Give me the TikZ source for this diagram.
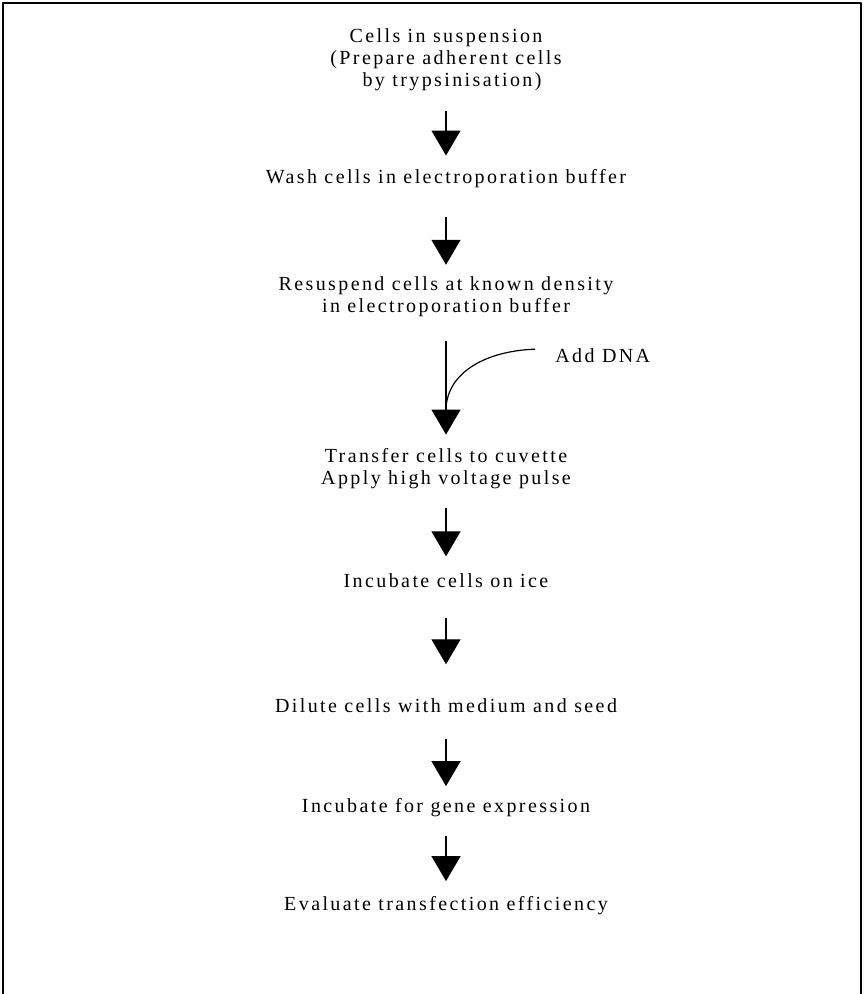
\documentclass[tikz,border=0pt]{standalone}
\usepackage{fontspec}
\setmainfont[LetterSpace=12]{Liberation Serif}
\usetikzlibrary{arrows.meta, positioning}
\tikzset{stage/.style={inner sep=0pt, align=center, font=\fontsize{10}{11}\selectfont}}
\tikzset{flow/.style={-{Triangle[width=14.5pt,length=12.5pt]}, line width=0.6pt}}

\begin{document}
\begin{tikzpicture}[x=0.5pt,y=-0.5pt,line join=round]
	\useasboundingbox (0,0) rectangle (865,994);
	\draw[line width=0.8pt] (3,994) -- (3,3) -- (861,3) -- (861,994);
	\draw[line width=1.4pt] (3,3) -- (861,3);

	\node[stage, anchor=north] (susp) at (446,28) {Cells in suspension\\(Prepare adherent cells\\\hspace{6pt}by trypsinisation)};
	\node[stage, anchor=base] (wash) at (446,184) {Wash cells in electroporation buffer};
	\node[stage, anchor=north] (resus) at (446,276) {Resuspend cells at known density\\in electroporation buffer};
	\node[stage, anchor=north] (cuv) at (446,448) {Transfer cells to cuvette\\Apply high voltage pulse};
	\node[stage, anchor=base] (ice) at (446,587) {Incubate cells on ice};
	\node[stage, anchor=base] (dil) at (446,712) {Dilute cells with medium and seed};
	\node[stage, anchor=base] (gene) at (446,812) {Incubate for gene expression};
	\node[stage, anchor=base] (eval) at (446,910) {Evaluate transfection efficiency};
	\node[stage, anchor=base west] (dna) at (555,362) {Add DNA};

    \foreach \a/\b/\s/\e in {susp/wash/10/7, wash/resus/14.3/5.6, resus/cuv/11.9/6.7,
        cuv/ice/9.4/8.2, ice/dil/15/16.7, dil/gene/13/5.7, gene/eval/9.4/7.2}
        \draw[flow, shorten <=\s pt, shorten >=\e pt] (\a) -- (\b);

	% DNA joins the third step
	\coordinate (join) at (446,408);
	\draw[line width=0.6pt] ([shift={(-10pt,3pt)}]dna.west) .. controls (486,351) and (448,372) .. (join);
\end{tikzpicture}
\end{document}
